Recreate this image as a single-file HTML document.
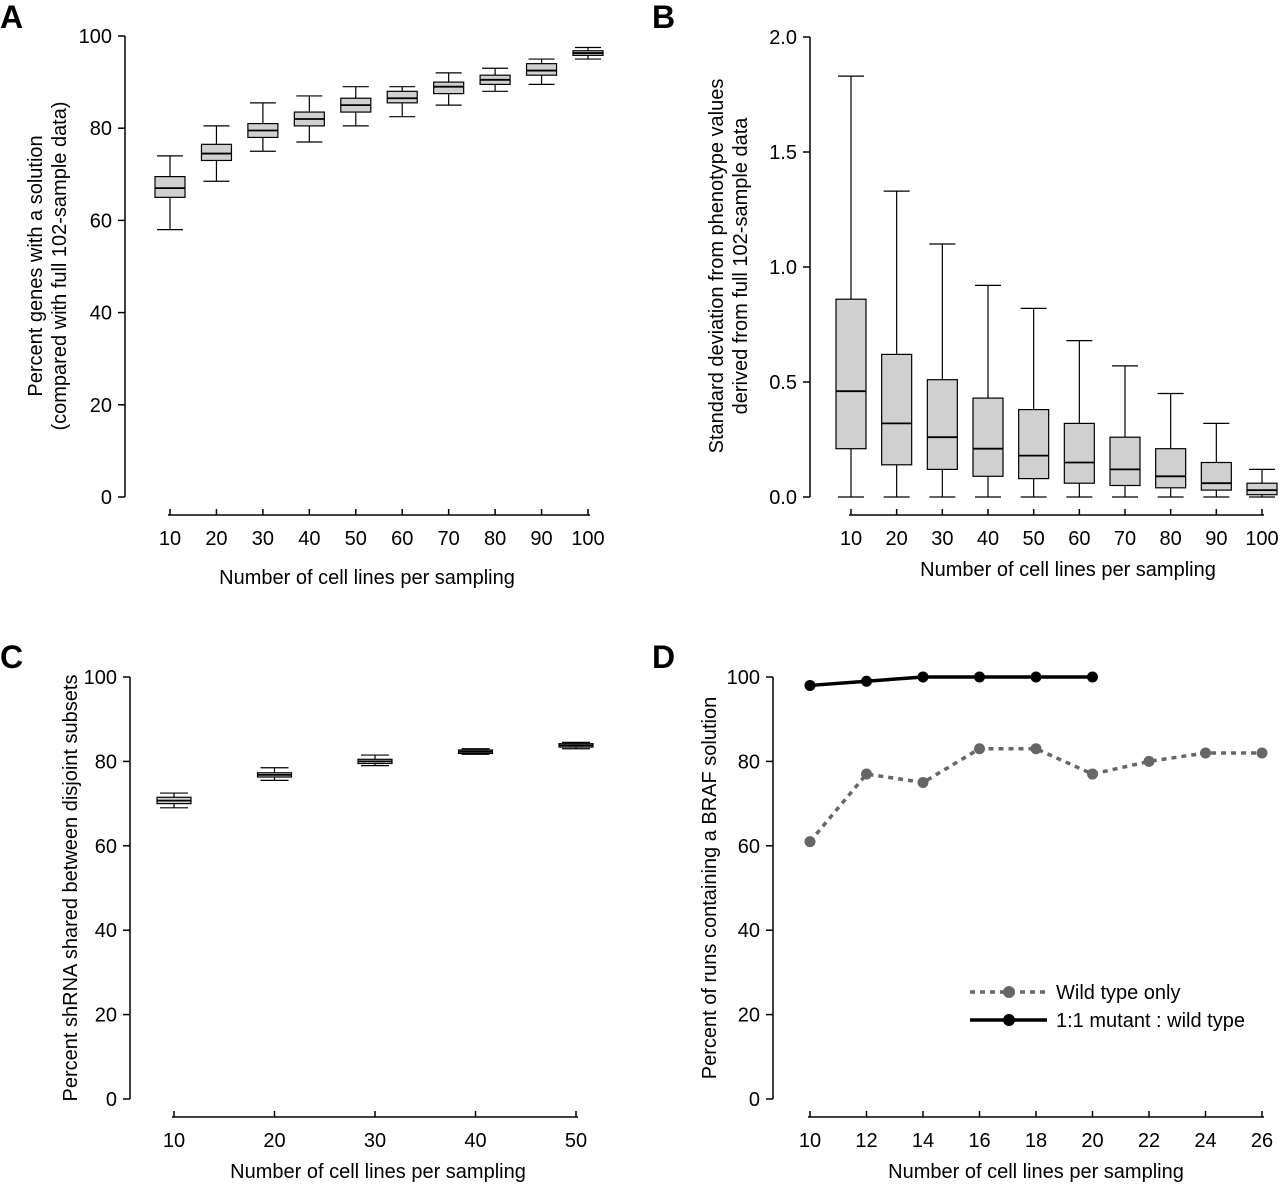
<!DOCTYPE html>
<html><head><meta charset="utf-8"><style>
body{margin:0;background:#fff}
svg{display:block;font-family:"Liberation Sans",Arial,sans-serif}
</style></head><body>
<svg id="s" width="1280" height="1184" viewBox="0 0 1280 1184"></svg>
<script>
// Panel A data
const aCats=[10,20,30,40,50,60,70,80,90,100];
const aWlo=[58,68.5,75,77,80.5,82.5,85,88,89.5,95];
const aQ1=[65,73,78,80.5,83.5,85.5,87.5,89.5,91.5,95.8];
const aMed=[67,74.5,79.5,82,85,86.5,89,90.5,92.5,96.3];
const aQ3=[69.5,76.5,81,83.5,86.5,88,90,91.5,94,96.8];
const aWhi=[74,80.5,85.5,87,89,89,92,93,95,97.5];
const aYTicks=[0,20,40,60,80,100];
// Panel B data
const bCats=[10,20,30,40,50,60,70,80,90,100];
const bWlo=[0,0,0,0,0,0,0,0,0,0];
const bQ1=[0.21,0.14,0.12,0.09,0.08,0.06,0.05,0.04,0.03,0.01];
const bMed=[0.46,0.32,0.26,0.21,0.18,0.15,0.12,0.09,0.06,0.03];
const bQ3=[0.86,0.62,0.51,0.43,0.38,0.32,0.26,0.21,0.15,0.06];
const bWhi=[1.83,1.33,1.10,0.92,0.82,0.68,0.57,0.45,0.32,0.12];
const bYTicks=[0,0.5,1.0,1.5,2.0];
const bYLabels=["0.0","0.5","1.0","1.5","2.0"];
// Panel C data
const cCats=[10,20,30,40,50];
const cWlo=[69,75.5,79,81.7,83];
const cQ1=[70,76.3,79.5,81.9,83.4];
const cMed=[70.7,76.8,80,82.3,83.8];
const cQ3=[71.5,77.3,80.5,82.7,84.2];
const cWhi=[72.5,78.5,81.5,83,84.5];
const cYTicks=[0,20,40,60,80,100];
// Panel D data
const dXTicks=[10,12,14,16,18,20,22,24,26];
const dMutX=[10,12,14,16,18,20];
const dMutY=[98,99,100,100,100,100];
const dWtX=[10,12,14,16,18,20,22,24,26];
const dWtY=[61,77,75,83,83,77,80,82,82];
const dYTicks=[0,20,40,60,80,100];

const FS=20;
const S=document.getElementById('s');const NS='http://www.w3.org/2000/svg';
function el(t,a,p){const e=document.createElementNS(NS,t);for(const k in a)e.setAttribute(k,a[k]);(p||S).appendChild(e);return e;}
function txt(x,y,s,a,p){const e=el('text',Object.assign({x:x,y:y,'font-size':FS,fill:'#000'},a),p);e.textContent=s;return e;}
function lin(d0,d1,r0,r1){return v=>r0+(v-d0)*(r1-r0)/(d1-d0);}

function yAxis(g,ax,y,ticks,labels,yTop,yBot){
  const l=el('line',{x1:ax,x2:ax,y1:yTop,y2:yBot,stroke:'#000','stroke-width':1.5},g);
  
  ticks.forEach((t,i)=>{
    el('line',{x1:ax-7,x2:ax,y1:y(t),y2:y(t),stroke:'#000','stroke-width':1.5},g);
    const e=txt(ax-13,y(t)+7,labels[i],{'text-anchor':'end'},g);
    
  });
}
function xAxis(g,ay,x,ticks,labels,x0,x1){
  const l=el('line',{x1:x0,x2:x1,y1:ay,y2:ay,stroke:'#000','stroke-width':1.5},g);
  
  ticks.forEach((t,i)=>{
    el('line',{x1:x(t),x2:x(t),y1:ay-6,y2:ay,stroke:'#000','stroke-width':1.5},g);
    const e=txt(x(t),ay+30,labels[i],{'text-anchor':'middle'},g);
    
  });
}
function boxes(g,cats,x,y,wlo,q1,med,q3,whi,w,cw){
  cats.forEach((c,i)=>{
    const bg=el('g',{},g);
    
    const cx=x(c);
    el('line',{x1:cx,x2:cx,y1:y(whi[i]),y2:y(q3[i]),stroke:'#000','stroke-width':1.2},bg);
    el('line',{x1:cx,x2:cx,y1:y(q1[i]),y2:y(wlo[i]),stroke:'#000','stroke-width':1.2},bg);
    el('line',{x1:cx-cw/2,x2:cx+cw/2,y1:y(whi[i]),y2:y(whi[i]),stroke:'#000','stroke-width':1.2},bg);
    el('line',{x1:cx-cw/2,x2:cx+cw/2,y1:y(wlo[i]),y2:y(wlo[i]),stroke:'#000','stroke-width':1.2},bg);
    el('rect',{x:cx-w/2,y:y(q3[i]),width:w,height:Math.max(1,y(q1[i])-y(q3[i])),fill:'#d0d0d0',stroke:'#000','stroke-width':1.2},bg);
    el('line',{x1:cx-w/2,x2:cx+w/2,y1:y(med[i]),y2:y(med[i]),stroke:'#000','stroke-width':1.8},bg);
  });
}
function panelLetter(g,x,y,s){const e=txt(x,y,s,{'font-size':32,'font-weight':'bold'},g);}
function yTitle(g,cx,cy,lines,name){
  const t=el('text',{transform:`translate(${cx},${cy}) rotate(-90)`,'font-size':FS,'text-anchor':'middle'},g);
  
  lines.forEach((s,i)=>{const ts=el('tspan',{x:0,dy:i?24:0},t);ts.textContent=s;});
}
function xTitle(g,cx,y,s){const e=txt(cx,y,s,{'text-anchor':'middle'},g);}

// Panel A
let g=el('g',{});
panelLetter(g,0,28,'A');
let y=lin(0,100,497,36),x=lin(10,100,170,588);
yAxis(g,125,y,aYTicks,aYTicks.map(String),36,497);
xAxis(g,515,x,aCats,aCats.map(String),168,590);
boxes(g,aCats,x,y,aWlo,aQ1,aMed,aQ3,aWhi,30,26);
yTitle(g,42,266,['Percent genes with a solution','(compared with full 102-sample data)'],'y-axis-title');
xTitle(g,367,584,'Number of cell lines per sampling');

// Panel B
g=el('g',{});
panelLetter(g,652,28,'B');
y=lin(0,2,497,37);x=lin(10,100,851,1262);
yAxis(g,810,y,bYTicks,bYLabels,37,497);
xAxis(g,515,x,bCats,bCats.map(String),849,1264);
boxes(g,bCats,x,y,bWlo,bQ1,bMed,bQ3,bWhi,30,26);
yTitle(g,723,266,['Standard deviation from phenotype values','derived from full 102-sample data'],'y-axis-title');
xTitle(g,1068,576,'Number of cell lines per sampling');

// Panel C
g=el('g',{});
panelLetter(g,0,668,'C');
y=lin(0,100,1099,677);x=lin(10,50,174,576);
yAxis(g,130,y,cYTicks,cYTicks.map(String),677,1099);
xAxis(g,1117,x,cCats,cCats.map(String),172,578);
boxes(g,cCats,x,y,cWlo,cQ1,cMed,cQ3,cWhi,34,28);
yTitle(g,77,888,['Percent shRNA shared between disjoint subsets'],'y-axis-title');
xTitle(g,378,1178,'Number of cell lines per sampling');

// Panel D
g=el('g',{});
panelLetter(g,652,668,'D');
y=lin(0,100,1099,677);x=lin(10,26,810,1262);
yAxis(g,773,y,dYTicks,dYTicks.map(String),677,1099);
xAxis(g,1117,x,dXTicks,dXTicks.map(String),808,1264);
yTitle(g,716,888,['Percent of runs containing a BRAF solution'],'y-axis-title');
xTitle(g,1036,1178,'Number of cell lines per sampling');
let p=el('polyline',{points:dWtX.map((v,i)=>x(v)+','+y(dWtY[i])).join(' '),fill:'none',stroke:'#666','stroke-width':3.5,'stroke-dasharray':'5,5'},g);

dWtX.forEach((v,i)=>{const c=el('circle',{cx:x(v),cy:y(dWtY[i]),r:5.5,fill:'#666'},g);});
p=el('polyline',{points:dMutX.map((v,i)=>x(v)+','+y(dMutY[i])).join(' '),fill:'none',stroke:'#000','stroke-width':3.5},g);

dMutX.forEach((v,i)=>{const c=el('circle',{cx:x(v),cy:y(dMutY[i]),r:5.5,fill:'#000'},g);});
// legend
const lg=el('g',{},g);
el('line',{x1:970,x2:1047,y1:992,y2:992,stroke:'#666','stroke-width':3.5,'stroke-dasharray':'5,5'},lg);
el('circle',{cx:1009,cy:992,r:6,fill:'#666'},lg);
let t=txt(1056,999,'Wild type only',{},lg);
el('line',{x1:970,x2:1047,y1:1020,y2:1020,stroke:'#000','stroke-width':3.5},lg);
el('circle',{cx:1009,cy:1020,r:6,fill:'#000'},lg);
t=txt(1056,1027,'1:1 mutant : wild type',{},lg);
</script>
</body></html>
